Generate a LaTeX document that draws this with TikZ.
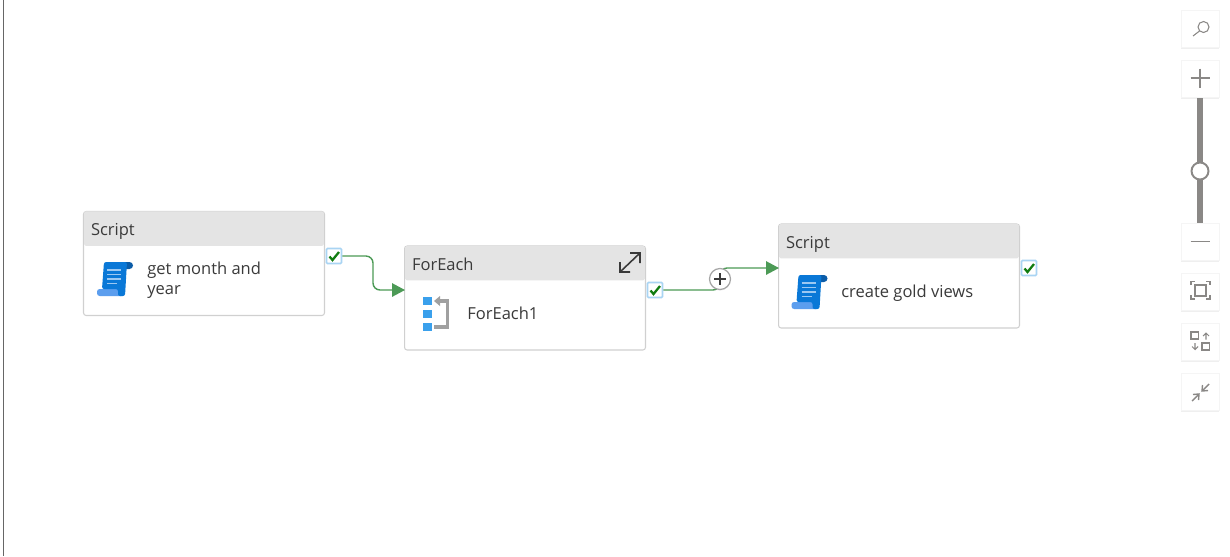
\documentclass[tikz,border=0pt]{standalone}
\usepackage{fontspec}
\setmainfont{Open Sans}
\usetikzlibrary{arrows.meta,calc,shadows}
\definecolor{headfill}{HTML}{E4E4E4}
\definecolor{boxline}{HTML}{D0D0D0}
\definecolor{inktext}{HTML}{3A3A3A}
\definecolor{linkgreen}{HTML}{4C9A56}
\definecolor{tickgreen}{HTML}{107C10}
\definecolor{tickline}{HTML}{A9D4F3}
\definecolor{toolgrey}{HTML}{8A8886}
\definecolor{scriptA}{HTML}{0A78D7}
\definecolor{scriptB}{HTML}{0B5CA8}
\definecolor{scriptC}{HTML}{5C9EEE}
\definecolor{scriptD}{HTML}{9CC8F2}
\definecolor{loopblue}{HTML}{3AA0EC}
\definecolor{loopgrey}{HTML}{A0A0A0}

\begin{document}
\begin{tikzpicture}[x=.02cm,y=-.02cm,font=\fontsize{9.4pt}{11.5pt}\selectfont,text=inktext,
box/.style={draw=boxline,fill=white,rounded corners=1.5pt,line width=.6pt,minimum width=4.82cm,minimum height=2.08cm,inner sep=0pt},
header/.style={fill=headfill,rounded corners=1pt,text width=4.52cm,text height=10pt,text depth=2pt,minimum height=.69cm,inner xsep=.14cm,inner ysep=0pt,align=left,anchor=north},
actlabel/.style={anchor=west,inner sep=0pt,align=left},
check/.style={draw=tickline,fill=white,line width=.9pt,rounded corners=.6pt,minimum size=.3cm,inner sep=0pt},
tick/.style={draw=tickgreen,line width=1.3pt},
link/.style={draw=linkgreen,line width=.8pt,rounded corners=4pt},
linkhead/.style={-{Triangle[length=2.6mm,width=2.7mm]},draw=linkgreen,line width=.8pt},
tool/.style={fill=white,draw=black!4,line width=.4pt,minimum width=.76cm,minimum height=.74cm,inner sep=0pt,drop shadow={opacity=.12,shadow xshift=0pt,shadow yshift=-1pt}},
toolicon/.style={draw=toolgrey,line width=.6pt},
scripticon/.pic={
\fill[scriptC,rounded corners=1.5pt] (0,27) rectangle (27,34);
\fill[scriptB,rounded corners=2pt] (24,0) rectangle (36,7);
\fill[scriptA,rounded corners=1.2pt] (7,0) -- (30,0) -- (28,34) -- (21,34) -- (21,27) -- (5,27) -- cycle;
\foreach \y in {8,12.5,17} {\draw[scriptD,line width=.7pt] (10,\y) -- (24,\y);}
\draw[scriptD,line width=.7pt] (10,21.5) -- (20,21.5);
}]
\useasboundingbox (0,0) rectangle (1230,556);
\fill[white] (0,0) rectangle (1230,556);
\draw[black!60,line width=.5pt] (3,0) -- (3,556);

% activities
\node[box] (script1) at (204,263.5) {};
\node[header] (head1) at (script1.north) {Script};
\node[box] (foreach) at (525,298) {};
\node[header] (head2) at (foreach.north) {ForEach};
\node[box] (script2) at (899,276) {};
\node[header] (head3) at (script2.north) {Script};
\pic at (97,262) {scripticon};
\pic at (791.5,275) {scripticon};
\node[actlabel] (name1) at (147,280) {get month and\\year};
\node[actlabel] (name2) at (467,313) {ForEach1};
\node[actlabel] (name3) at (841,293) {create gold views};

% loop icon and expand icon
\foreach \y in {297,310,323} {\fill[loopblue] (423,\y) rectangle (432,\y+8);}
\draw[loopgrey,line width=1.8pt] (438,301) -- (447.5,301) -- (447.5,327) -- (434,327);
\fill[loopgrey] (434,301) -- (440,296) -- (440,306) -- cycle;
\draw[inktext,line width=.9pt] (620,272) -- (640,253) (620,262) -- (620,272) -- (630,272) (630,253) -- (640,253) -- (640,263);

% connectors
\node[check] (check1) at (334,256) {};
\node[check] (check2) at (655,290) {};
\node[check] (check3) at (1029,268) {};
\foreach \n in {check1,check2,check3} {\draw[tick] ($(\n)+(-4.5,.5)$) -- ++(3,3.5) -- ++(6.5,-8);}
\coordinate (in2) at ($(foreach.west |- check2)+(1,0)$);
\coordinate (in3) at ($(script2.west |- check3)+(1,0)$);
\coordinate (bend1) at (373,273);
\coordinate (mid) at (720,279);
\draw[link] (check1.east) -| (bend1) |- ($(in2)+(-12,0)$);
\draw[linkhead] ($(in2)+(-13,0)$) -- (in2);
\draw[link] (check2.east) -| (mid) |- ($(in3)+(-12,0)$);
\draw[linkhead] ($(in3)+(-13,0)$) -- (in3);
\node[circle,draw=boxline!80!black,fill=white,line width=.7pt,minimum size=.42cm,inner sep=0pt,drop shadow={opacity=.15,shadow xshift=0pt,shadow yshift=-.6pt}] (plus) at (mid) {};
\draw[inktext,line width=.6pt] ($(plus)+(-6,0)$) -- ($(plus)+(6,0)$) ($(plus)+(0,-6)$) -- ($(plus)+(0,6)$);

% toolbar
\draw[toolgrey,line width=2.9pt] (1200,97) -- (1200,223);
\node[tool] (search) at (1200,29) {};
\node[tool] (zoomin) at (1200,79) {};
\node[tool] (zoomout) at (1200,241.5) {};
\node[tool] (fit) at (1200,292) {};
\node[tool] (layout) at (1200,342) {};
\node[tool] (collapse) at (1200,392) {};
\node[circle,draw=toolgrey,fill=white,line width=1.1pt,minimum size=.34cm,inner sep=0pt] (knob) at (1200,171) {};
\draw[toolicon] (1203.5,27) circle (5.5);
\draw[toolicon] (1199.5,31) -- (1193,36);
\draw[toolicon] ($(zoomin)+(-9.5,-1)$) -- ($(zoomin)+(9.5,-1)$) ($(zoomin)+(0,-10.5)$) -- ($(zoomin)+(0,8.5)$);
\draw[toolicon] ($(zoomout)+(-9.5,0)$) -- ($(zoomout)+(9.5,0)$);
\draw[toolicon,line width=.9pt] (1195,285) rectangle (1206,296);
\draw[toolicon] (1191,285) -- (1191,281.5) -- (1195,281.5) (1206,281.5) -- (1210,281.5) -- (1210,285) (1191,295) -- (1191,299) -- (1195,299) (1206,299) -- (1210,299) -- (1210,295);
\draw[toolicon] (1191,332) rectangle (1198.5,339) (1202,343) rectangle (1209.5,350);
\draw[toolicon] (1206,339.5) -- (1206,333) (1203,336) -- (1206,333) -- (1209,336);
\draw[toolicon] (1195,343) -- (1195,349.5) (1192,346.5) -- (1195,349.5) -- (1198,346.5);
\draw[toolicon,line width=.8pt] (1192,401) -- (1199,394) (1193,394.5) -- (1199,394) -- (1198.5,400);
\draw[toolicon,line width=.8pt] (1209,384) -- (1202,391) (1202.5,385) -- (1202,391) -- (1208,390.5);
\end{tikzpicture}
\end{document}
